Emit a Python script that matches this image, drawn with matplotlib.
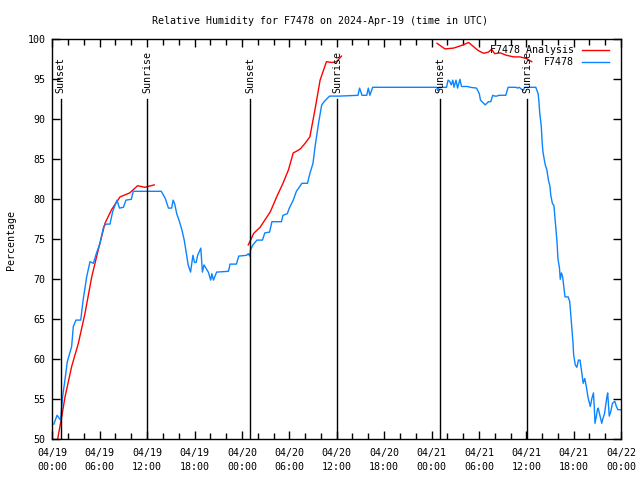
import pandas as pd
import matplotlib
matplotlib.use("Agg")
import matplotlib.pyplot as plt
import matplotlib.dates as mdates

# Hours since 2024-04-19 00:00 UTC
start = pd.Timestamp("2024-04-19 00:00")

# Station observations (F7478)
obs_hours = [0.2, 0.6, 1.05, 1.3, 1.6, 1.9, 2.45, 2.66, 3.0, 3.6, 3.9, 4.35, 4.77, 5.2, 5.6,
             6.04, 6.5, 6.8, 7.3, 7.65, 8.2, 8.5, 9.0, 9.33, 10.0, 10.25, 11.5, 13.8, 14.3,
             14.7, 15.1, 15.3, 15.5, 15.75, 16.1, 16.4, 16.7, 17.0, 17.2, 17.5, 17.8, 18.0,
             18.2, 18.4, 18.8, 19.0, 19.2, 19.75, 20.05, 20.2, 20.4, 20.8, 22.3, 22.5, 23.3,
             23.6, 24.6, 24.8, 25.0, 25.1, 25.4, 25.9, 26.6, 26.9, 27.5, 27.8, 29.0, 29.2,
             29.75, 30.0, 30.5, 30.9, 31.6, 32.3, 32.6, 33.0, 33.25, 33.7, 34.1, 34.4, 35.1,
             36.4, 38.7, 38.9, 39.2, 39.8, 40.0, 40.2, 40.55, 48.65, 48.8, 48.95, 49.9, 50.1,
             50.3, 50.5, 50.7, 50.85, 51.1, 51.3, 51.6, 51.8, 52.6, 52.9, 53.7, 54.05, 54.2,
             54.6, 54.8, 55.2, 55.5, 55.75, 56.0, 56.3, 56.5, 57.4, 57.7, 58.7, 58.9, 59.1,
             59.6, 59.8, 61.2, 61.5, 61.6, 61.7, 61.9, 62.0, 62.1, 62.25, 62.4, 62.6, 62.8,
             63.0, 63.1, 63.3, 63.5, 63.6, 63.75, 63.9, 64.0, 64.2, 64.3, 64.45, 64.6, 64.8,
             64.9, 65.3, 65.5, 65.75, 65.9, 66.0, 66.2, 66.4, 66.6, 66.8, 67.0, 67.2, 67.4,
             67.6, 67.8, 68.1, 68.3, 68.5, 68.6, 68.7, 68.85, 69.0, 69.1, 69.55, 69.7, 69.9,
             70.2, 70.3, 70.5, 70.7, 70.9, 71.2, 71.4, 71.6, 72.0]
obs_rh = [51.9, 53.0, 52.4, 55.3, 57.4, 59.7, 61.6, 64.1, 64.9, 64.9, 67.4, 70.3, 72.2, 72.0, 73.3,
          74.5, 76.6, 76.9, 76.9, 78.5, 79.9, 78.9, 79.0, 79.9, 80.0, 81.0, 81.0, 81.0, 80.1,
          78.9, 78.9, 79.9, 79.4, 78.2, 77.2, 76.2, 74.9, 73.0, 71.8, 70.9, 73.0, 72.1,
          72.1, 73.0, 73.9, 70.9, 71.8, 70.9, 69.9, 70.7, 69.9, 70.9, 71.0, 71.9, 71.9,
          72.9, 73.0, 73.2, 72.9, 73.7, 74.3, 74.9, 74.9, 75.8, 75.9, 77.2, 77.2, 78.0,
          78.2, 78.9, 79.9, 81.0, 82.0, 82.0, 83.2, 84.5, 86.5, 89.5, 91.8, 92.2, 92.9,
          92.9, 93.0, 93.9, 93.0, 93.0, 93.9, 93.0, 94.0, 94.0, 93.6, 94.0, 94.0, 94.9,
          94.75, 94.3, 94.9, 94.0, 94.9, 93.9, 95.0, 94.1, 94.1, 94.0, 93.9, 93.2, 92.4,
          92.0, 91.8, 92.2, 92.2, 93.0, 92.9, 92.9, 93.0, 93.0, 94.0, 94.0, 93.9, 94.0,
          93.6, 94.0, 94.0, 93.2, 92.2, 90.8, 89.1, 87.2, 86.0, 85.1, 84.3, 83.7, 82.4,
          81.6, 80.5, 79.5, 79.2, 78.0, 76.2, 74.5, 72.6, 71.4, 70.0, 70.8, 70.3, 68.7,
          67.8, 67.8, 67.2, 64.1, 62.2, 60.5, 59.3, 59.0, 59.9, 59.9, 58.5, 57.0, 57.6,
          56.6, 55.3, 54.1, 55.1, 55.8, 54.1, 52.0, 52.8, 53.7, 53.9, 52.0, 52.6, 53.2,
          55.3, 55.8, 52.9, 53.5, 54.5, 54.75, 54.1, 53.7, 53.7]

# Analysis (F7478 Analysis), three separate runs
ana1_hours = [0.6, 0.76, 1.19, 1.61, 2.45, 3.3, 4.14, 4.99, 5.82, 6.67, 7.5, 8.57, 9.8, 10.8, 11.7, 12.9]
ana1_rh = [49.5, 50.5, 52.8, 55.3, 59.1, 62.0, 65.75, 70.3, 73.7, 77.0, 78.7, 80.3, 80.8, 81.7, 81.5, 81.8]
ana2_hours = [24.8, 25.1, 25.5, 26.3, 26.9, 27.6, 28.4, 29.2, 29.9, 30.5, 30.9, 31.4, 32.0, 32.6,
              33.25, 33.9, 34.7, 35.4, 36.0, 36.6]
ana2_rh = [74.3, 74.9, 75.75, 76.5, 77.4, 78.45, 80.3, 82.0, 83.7, 85.8, 86.0, 86.3, 87.0, 87.8,
           91.2, 94.9, 97.2, 97.1, 97.2, 97.9]
ana3_hours = [48.7, 49.7, 50.8, 52.0, 52.7, 53.9, 54.6, 55.2, 55.6, 56.0, 56.7, 57.5, 58.4, 59.2, 60.0, 60.7]
ana3_rh = [99.5, 98.8, 98.9, 99.3, 99.6, 98.6, 98.25, 98.4, 98.75, 98.2, 98.3, 98.0, 97.8, 97.8, 97.6, 97.2]

# Sun events
sun_hours = [1.07, 12.03, 25.07, 36.07, 49.1, 60.13]
sun_labels = ["Sunset", "Sunrise", "Sunset", "Sunrise", "Sunset", "Sunrise"]

y_ticks = [50, 55, 60, 65, 70, 75, 80, 85, 90, 95, 100]


def to_time(hours):
    return (start + pd.to_timedelta(hours, unit="h")).to_numpy()


mono = "DejaVu Sans Mono"
plt.rcParams["font.family"] = mono
plt.rcParams["font.size"] = 7.2

fig = plt.figure(figsize=(6.4, 4.8), dpi=100)
ax = fig.add_axes([52.3 / 640, 40.7 / 480, 568.8 / 640, 400 / 480])

red = "#ff0000"
blue = "#0a84ff"

for h, v in [(ana1_hours, ana1_rh), (ana2_hours, ana2_rh), (ana3_hours, ana3_rh)]:
    ax.plot(to_time(h), v, color=red, lw=1.0)
ax.plot(to_time(obs_hours), obs_rh, color=blue, lw=1.0)

# Sunrise / sunset markers
for h, lab in zip(sun_hours, sun_labels):
    t = to_time([h])[0]
    ax.plot([t, t], [50, 92.5], color="black", lw=1.0)
    ax.text(t, 93.3, lab, rotation=90, ha="center", va="bottom")

ax.set_xlim(to_time([0])[0], to_time([72])[0])
ax.set_ylim(50, 100)
ax.set_yticks(y_ticks)
ax.set_yticklabels([str(v) for v in y_ticks])

ax.xaxis.set_major_locator(mdates.HourLocator(byhour=[0, 6, 12, 18]))
ax.xaxis.set_minor_locator(mdates.HourLocator(byhour=range(0, 24, 2)))
ax.xaxis.set_major_formatter(mdates.DateFormatter("%m/%d\n%H:%M"))
fig.canvas.draw()
for lab in ax.get_xticklabels():
    lab.set_linespacing(1.4)

ax.tick_params(which="both", direction="in", top=True, right=True, width=1.0)
ax.tick_params(which="major", length=6)
ax.tick_params(which="minor", length=4)
ax.tick_params(axis="x", which="major", pad=6.5)
ax.tick_params(axis="y", which="major", pad=5)
for s in ax.spines.values():
    s.set_linewidth(1.0)

# Legend drawn gnuplot-style: right-aligned text, sample line at the right
ax.text(0.917, 0.973, "F7478 Analysis", transform=ax.transAxes, ha="right", va="center")
ax.plot([0.9307, 0.9793], [0.973, 0.973], transform=ax.transAxes, color=red, lw=1.0)
ax.text(0.917, 0.9425, "F7478", transform=ax.transAxes, ha="right", va="center")
ax.plot([0.9307, 0.9793], [0.9425, 0.9425], transform=ax.transAxes, color=blue, lw=1.0)

fig.text(0.5, 1 - 20.5 / 480, "Relative Humidity for F7478 on 2024-Apr-19 (time in UTC)",
         ha="center", va="center")
fig.text(11 / 640, 0.5, "Percentage", rotation=90, ha="center", va="center")

fig.savefig("out.png", dpi=100)
